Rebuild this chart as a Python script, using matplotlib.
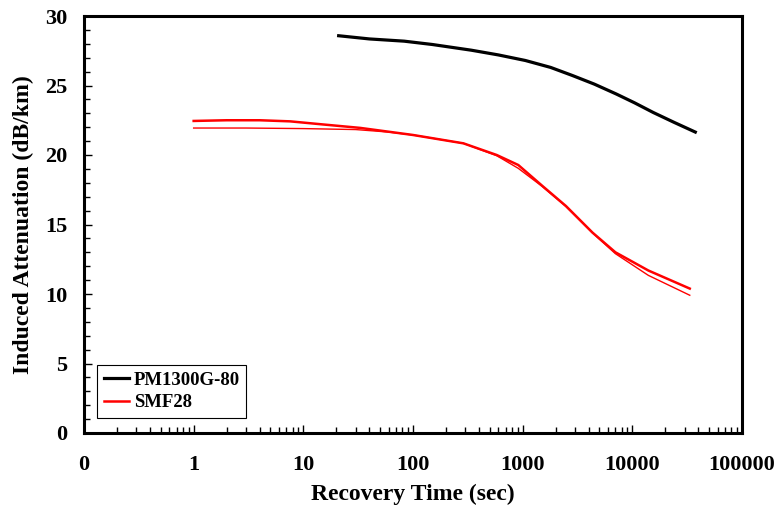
import matplotlib

matplotlib.use("Agg")
import matplotlib.pyplot as plt
from matplotlib.ticker import FixedLocator, LogLocator, MultipleLocator, NullFormatter

# PM1300G-80 measured recovery (sec, dB/km)
pm_time = [21, 40, 83, 150, 340, 600, 1057, 1800, 2840, 4500, 7130, 10500, 15500, 24000, 37500]
pm_atten = [28.58, 28.35, 28.19, 27.95, 27.54, 27.2, 26.8, 26.3, 25.72, 25.1, 24.39, 23.75, 23.06, 22.35, 21.65]

# SMF28 measured recovery
smf_time = [1, 2, 4, 7.6, 15, 33, 100, 288, 580, 912, 1500, 2480, 4330, 7010, 14000, 33400]
smf_atten = [22.45, 22.5, 22.5, 22.42, 22.2, 21.95, 21.44, 20.84, 20.0, 19.28, 17.8, 16.33, 14.42, 13.0, 11.69, 10.39]

# SMF28 fitted curve
fit_time = [1, 3, 10, 30, 60, 100, 288, 580, 912, 1500, 2480, 4330, 7010, 14000, 33400]
fit_atten = [21.94, 21.94, 21.9, 21.83, 21.65, 21.44, 20.84, 19.95, 19.04, 17.75, 16.3, 14.4, 12.9, 11.34, 9.91]

x_ticks = [0.1, 1, 10, 100, 1000, 10000, 100000]
x_labels = ["0", "1", "10", "100", "1000", "10000", "100000"]

plt.rcParams["font.family"] = "Liberation Serif"
plt.rcParams["font.weight"] = "bold"

fig = plt.figure(figsize=(7.81, 5.16), dpi=100)
ax = fig.add_axes([84 / 781, 1 - 433 / 516, (742 - 84) / 781, (433 - 16) / 516])

ax.plot(pm_time, pm_atten, color="black", lw=2.3, label="PM1300G-80")
ax.plot(smf_time, smf_atten, color="red", lw=1.8, label="SMF28")
ax.plot(fit_time, fit_atten, color="red", lw=1.0)

ax.set_xscale("log")
ax.set_xlim(0.1, 100000)
ax.set_ylim(0, 30)
ax.xaxis.set_major_locator(FixedLocator(x_ticks))
ax.set_xticklabels(x_labels)
ax.xaxis.set_minor_locator(LogLocator(base=10, subs=range(2, 10), numticks=20))
ax.xaxis.set_minor_formatter(NullFormatter())
ax.yaxis.set_major_locator(MultipleLocator(5))
ax.yaxis.set_minor_locator(MultipleLocator(1))

ax.tick_params(which="both", direction="in", top=False, right=False,
               labelsize=16, width=1)
ax.tick_params(which="major", length=6)
ax.tick_params(which="minor", length=4)
ax.tick_params(axis="x", which="major", pad=16)
ax.tick_params(axis="y", which="major", pad=12)
for s in ax.spines.values():
    s.set_linewidth(2.2)

ax.set_xlabel("Recovery Time (sec)", fontsize=17, fontweight="bold", labelpad=6)
ax.set_ylabel("Induced Attenuation (dB/km)", fontsize=17, fontweight="bold", labelpad=8)

leg = ax.legend(loc="lower left", bbox_to_anchor=(0.0198, 0.036), borderaxespad=0,
                fontsize=13.5, fancybox=False, framealpha=1, edgecolor="black",
                handlelength=1.35, handletextpad=0.25, borderpad=0.35, labelspacing=0.3)
leg.get_frame().set_linewidth(0.8)

fig.savefig("out.png", dpi=100)
